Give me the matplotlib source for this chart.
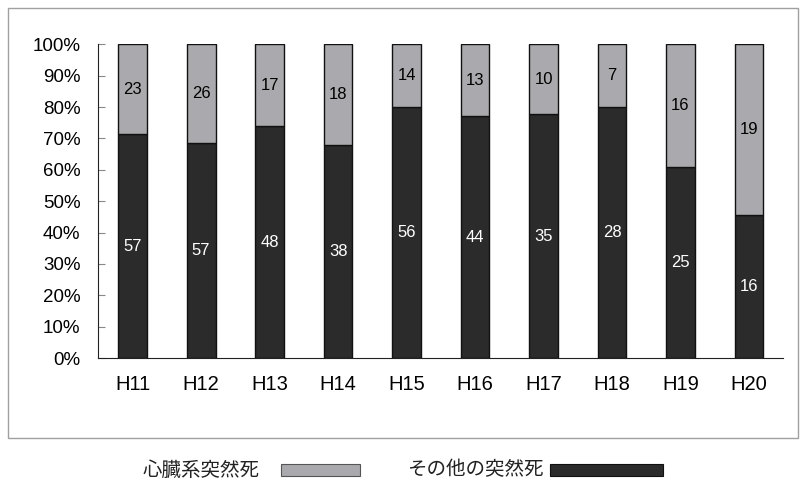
import matplotlib.pyplot as plt
from matplotlib.patches import Rectangle
from matplotlib.ticker import PercentFormatter

years = ['H11', 'H12', 'H13', 'H14', 'H15', 'H16', 'H17', 'H18', 'H19', 'H20']
other = [57, 57, 48, 38, 56, 44, 35, 28, 25, 16]   # その他の突然死
heart = [23, 26, 17, 18, 14, 13, 10, 7, 16, 19]    # 心臓系突然死

dark = '#2b2b2b'
gray = '#aaaaae'

tot = [a + b for a, b in zip(other, heart)]
p_other = [a / t * 100 for a, t in zip(other, tot)]
p_heart = [b / t * 100 for b, t in zip(heart, tot)]

fig = plt.figure(figsize=(8, 4.86), dpi=100)
ax = fig.add_axes([0.123, 0.263, 0.856, 0.646])

x = range(len(years))
ax.bar(x, p_other, width=0.42, color=dark, edgecolor='#111111', linewidth=1)
ax.bar(x, p_heart, width=0.42, bottom=p_other, color=gray, edgecolor='#111111', linewidth=1)

for i in x:
    ax.text(i, p_other[i] / 2, str(other[i]), ha='center', va='center',
            color='white', fontsize=12, family='Liberation Sans')
    ax.text(i, p_other[i] + p_heart[i] / 2, str(heart[i]), ha='center', va='center',
            color='black', fontsize=12, family='Liberation Sans')

ax.set_xlim(-0.5, len(years) - 0.5)
ax.set_ylim(0, 100)
ax.set_yticks(range(0, 101, 10))
ax.yaxis.set_major_formatter(PercentFormatter(decimals=0))
ax.set_xticks(list(x))
ax.set_xticklabels(years)
for s in ['top', 'right']:
    ax.spines[s].set_visible(False)
ax.spines['left'].set_color('#222222')
ax.spines['bottom'].set_color('#222222')
ax.tick_params(axis='y', direction='in', length=5, color='#888888', pad=13, labelsize=13.5)
ax.tick_params(axis='x', length=0, pad=12, labelsize=14.5)
for lab in ax.get_xticklabels() + ax.get_yticklabels():
    lab.set_family('Liberation Sans')

# outer frame
fig.add_artist(Rectangle((8 / 800, 1 - 438 / 486), 790 / 800, 430 / 486,
                         transform=fig.transFigure, fill=False, edgecolor='#a0a0a0', linewidth=1))

# legend below the frame
jp = ['Noto Sans CJK JP', 'DejaVu Sans']
fig.text(143 / 800, 1 - 470 / 486, '心臓系突然死', family=jp, fontsize=14, va='center', color='#222222')
fig.add_artist(Rectangle((281 / 800, 1 - 476 / 486), 79 / 800, 12 / 486,
                         transform=fig.transFigure, facecolor=gray, edgecolor='#555555', linewidth=0.8))
fig.text(407 / 800, 1 - 470 / 486, 'その他の突然死', family=jp, fontsize=14, va='center', color='#222222')
fig.add_artist(Rectangle((550 / 800, 1 - 476 / 486), 113 / 800, 12 / 486,
                         transform=fig.transFigure, facecolor=dark, edgecolor='#111111', linewidth=0.8))

fig.savefig('out.png', dpi=100)
